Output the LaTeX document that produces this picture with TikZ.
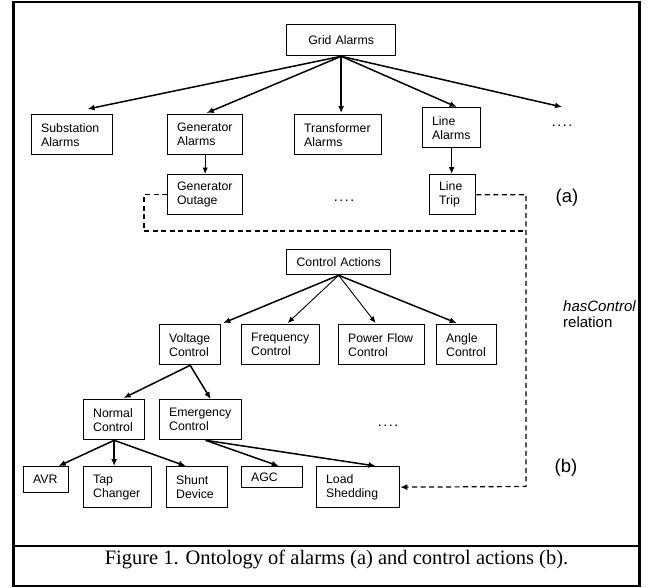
\documentclass[tikz,border=0pt]{standalone}
\usepackage{fontspec}
\setmainfont{Liberation Sans}
\newfontfamily\timesfont{Liberation Serif}
\usetikzlibrary{arrows.meta}
\hyphenpenalty=10000
\exhyphenpenalty=10000
\tikzset{
  box/.style={draw, line width=1.3pt, inner xsep=9.5pt, inner ysep=0pt, align=left,
    font=\fontsize{12.3}{14}\selectfont, anchor=north west},
  arr/.style={-{Latex[length=7pt,width=6pt]}, line width=1.5pt},
  thinarr/.style={-{Latex[length=6.5pt,width=5.5pt]}, line width=0.9pt},
  rel/.style={dash pattern=on 5pt off 3.5pt, line width=1.2pt},
  relarr/.style={rel, -{Latex[length=7pt,width=6pt]}},
  dots/.style={inner sep=0pt, font=\fontsize{14}{14}\selectfont},
  lbl/.style={inner sep=0pt, font=\fontsize{18.5}{20}\selectfont},
  frame/.style={line width=2.5pt}
}
\newcommand\fourdots{.\hspace{1.6pt}.\hspace{1.6pt}.\hspace{1.6pt}.}
\begin{document}
\begin{tikzpicture}[x=1pt,y=-1pt]
\useasboundingbox (0,0) rectangle (652,587);
% frame
\draw[frame] (13.5,2) rectangle (639.5,586);
\draw[frame] (13.5,546) -- (639.5,546);
% (a) alarms
\node[box, align=center, minimum width=109pt, minimum height=31pt, text width=90pt] (grid) at (286,24) {Grid Alarms};
\node[box, minimum width=81pt, minimum height=40pt, text width=62pt] (sub) at (31,114) {Substation\\Alarms};
\node[box, minimum width=75pt, minimum height=40pt, text width=56pt] (gen) at (167,114) {Generator\\Alarms};
\node[box, minimum width=87pt, minimum height=40pt, text width=68pt] (trans) at (294,114) {Transformer\\Alarms};
\node[box, minimum width=58pt, minimum height=40pt, text width=39pt] (line) at (422,107) {Line\\Alarms};
\node[dots] (dotsA) at (562,126) {\fourdots};
\coordinate (dotsTip) at (562,107);
\node[box, minimum width=75pt, minimum height=40pt, text width=56pt] (genout) at (167,174) {Generator\\Outage};
\node[dots] (dotsB) at (344,201) {\fourdots};
\node[box, minimum width=46pt, minimum height=40pt, text width=27pt] (trip) at (429,174) {Line\\Trip};
\node[lbl] (la) at (567,198) {(a)};
% (b) control actions
\node[box, align=center, minimum width=104pt, minimum height=25pt, text width=85pt] (ca) at (286,249) {Control Actions};
\node[box, minimum width=61pt, minimum height=40pt, text width=42pt] (volt) at (159,324) {Voltage\\Control};
\node[box, minimum width=78pt, minimum height=40pt, text width=59pt] (freq) at (241,324) {Frequency\\Control};
\node[box, minimum width=86pt, minimum height=40pt, text width=67pt] (pf) at (338,324) {Power Flow\\Control};
\node[box, minimum width=60pt, minimum height=40pt, text width=41pt] (angle) at (436,324) {Angle\\Control};
\node[box, minimum width=61pt, minimum height=40pt, text width=42pt] (normal) at (83,399) {Normal\\Control};
\node[box, minimum width=82pt, minimum height=40pt, text width=63pt] (emerg) at (159,399) {Emergency\\Control};
\node[dots] (dotsC) at (388,426) {\fourdots};
\node[box, minimum width=45pt, minimum height=26pt, text width=26pt] (avr) at (23,466) {AVR};
\node[box, minimum width=68pt, minimum height=41pt, text width=49pt] (tap) at (83,466) {Tap\\Changer};
\node[box, minimum width=61pt, minimum height=41pt, text width=42pt] (shunt) at (166,466) {Shunt\\Device};
\node[box, minimum width=61pt, minimum height=21pt, text width=42pt] (agc) at (241,466) {AGC};
\node[box, minimum width=83pt, minimum height=41pt, text width=64pt] (load) at (316,466) {Load\\Shedding};
\node[lbl] (lb) at (566,468) {(b)};
\node[inner sep=0pt, align=left, anchor=west, font=\fontsize{15}{16}\selectfont] (hc) at (563,314) {\itshape hasControl\\relation};
% caption
\node[inner sep=0pt, anchor=base, font=\timesfont\fontsize{20.5}{22}\selectfont] (cap) at (336.5,564) {Figure 1. Ontology of alarms (a) and control actions (b).};
% connectors (a)
\draw[arr] (grid.south) -- ([xshift=15.5pt,yshift=5pt]sub.north);
\draw[arr] (grid.south) -- ([xshift=1.5pt,yshift=1pt]gen.north);
\draw[arr] (grid.south) -- ([yshift=1pt]grid.south |- trans.north);
\draw[arr] (grid.south) -- ([xshift=5pt]line.north);
\draw[arr] (grid.south) -- (dotsTip);
\draw[thinarr] (gen.south) -- (gen.south |- genout.north);
\draw[arr] (line.south) -- (line.south |- trip.north);
% connectors (b)
\draw[arr] (ca.south) -- ([xshift=2pt,yshift=1pt]volt.north east);
\draw[thinarr] (ca.south) -- ([xshift=7pt,yshift=1pt]freq.north);
\draw[thinarr] (ca.south) -- ([xshift=-6pt,yshift=1pt]pf.north);
\draw[arr] (ca.south) -- ([xshift=-10pt,yshift=1pt]angle.north);
\draw[arr] (volt.south) -- ([xshift=9.5pt,yshift=1pt]normal.north);
\draw[arr] (volt.south) -- ([xshift=10pt]emerg.north);
\draw[arr] (normal.south) -- ([xshift=12.5pt]avr.north);
\draw[arr] (normal.south) -- (normal.south |- tap.north);
\draw[arr] (normal.south) -- ([xshift=-11.5pt]shunt.north);
\draw[arr] ([xshift=5pt]emerg.south) -- ([xshift=6.5pt]agc.north);
\draw[arr] ([xshift=5pt]emerg.south) -- ([xshift=17.5pt]load.north);
% hasControl relation
\coordinate (dL) at (144,231);
\coordinate (dR) at (526,231);
\coordinate (dB) at (526,486.5);
\draw[rel] (genout.west) -| (dL) -- (dR);
\draw[relarr] (trip.east) -| (dB) -- (load.east);
\end{tikzpicture}
\end{document}
